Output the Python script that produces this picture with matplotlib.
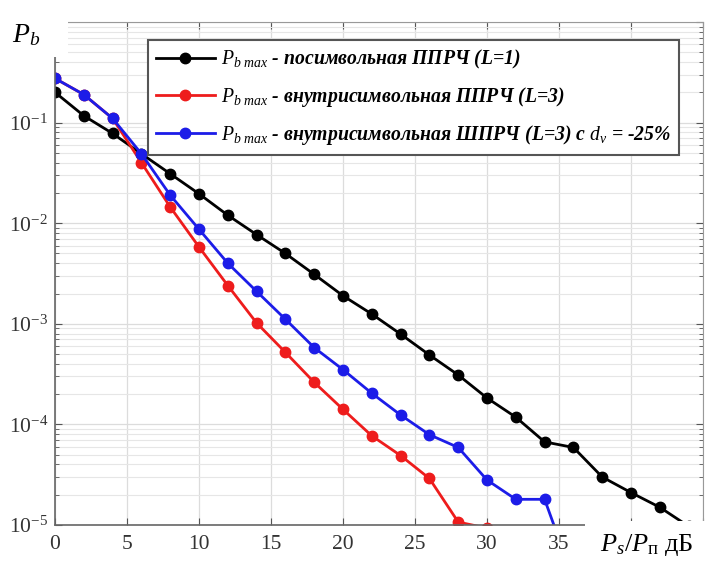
import numpy as np
import matplotlib
matplotlib.use("Agg")
import matplotlib.pyplot as plt
from matplotlib.patches import Rectangle
from matplotlib.ticker import LogLocator, NullFormatter, FixedLocator, FixedFormatter

plt.rcParams['font.family'] = ['Liberation Serif', 'DejaVu Serif']
plt.rcParams['mathtext.fontset'] = 'custom'
plt.rcParams['mathtext.rm'] = 'Liberation Serif'
plt.rcParams['mathtext.it'] = 'Liberation Serif:italic'
plt.rcParams['mathtext.bf'] = 'Liberation Serif:bold'

# Ps/Pп, dB
snr_black = np.arange(0, 46, 2)
snr_red = np.arange(0, 32, 2)
snr_blue = np.arange(0, 38, 2)

pb_symbol = [0.20, 0.117, 0.078, 0.049, 0.031, 0.0196, 0.012, 0.0077, 0.0050,
             0.0031, 0.0019, 0.00125, 0.00079, 0.00049, 0.00031, 0.000183,
             0.000118, 6.7e-5, 5.9e-5, 3.0e-5, 2.1e-5, 1.5e-5, 9.7e-6]
pb_intra = [0.275, 0.19, 0.11, 0.040, 0.0145, 0.0058, 0.0024, 0.00102,
            0.00052, 0.000262, 0.000141, 7.7e-5, 4.9e-5, 2.9e-5, 1.07e-5, 9.3e-6]
pb_intra_dv = [0.275, 0.19, 0.11, 0.049, 0.019, 0.0087, 0.0040, 0.0021,
               0.00111, 0.00058, 0.00035, 0.000204, 0.000124, 7.9e-5, 5.9e-5,
               2.8e-5, 1.8e-5, 1.8e-5, 2.9e-6]

labels = [r"$P_{b\ max}$ - посимвольная ППРЧ (L=1)",
          r"$P_{b\ max}$ - внутрисимвольная ППРЧ (L=3)",
          r"$P_{b\ max}$ - внутрисимвольная ШПРЧ (L=3) с $d_v$ = -25%"]
x_ticks = [0, 5, 10, 15, 20, 25, 30, 35, 40, 45]
x_ticklabels = ['0', '5', '10', '15', '20', '25', '30', '35', '', '']
y_ticks = [1e-5, 1e-4, 1e-3, 1e-2, 1e-1, 1]
y_ticklabels = [r'$10^{-5}$', r'$10^{-4}$', r'$10^{-3}$', r'$10^{-2}$', r'$10^{-1}$', '']

fig = plt.figure(figsize=(7.2, 5.63), dpi=100)
ax = fig.add_axes([0.0764, 0.0675, 0.9, 0.8934])

style = dict(lw=2.0, marker='o', markersize=7.5)
ax.semilogy(snr_black, pb_symbol, color='black', label=labels[0], **style)
ax.semilogy(snr_red, pb_intra, color='#ee1c1c', label=labels[1], **style)
ax.semilogy(snr_blue, pb_intra_dv, color='#1c1ce8', label=labels[2], **style)

ax.set_xlim(0, 45)
ax.set_ylim(1e-5, 1)
ax.set_xticks(x_ticks)
ax.set_xticklabels(x_ticklabels)
ax.yaxis.set_major_locator(FixedLocator(y_ticks))
ax.yaxis.set_major_formatter(FixedFormatter(y_ticklabels))
ax.yaxis.set_minor_locator(LogLocator(base=10, subs=np.arange(2, 10), numticks=10))
ax.yaxis.set_minor_formatter(NullFormatter())

ax.grid(True, which='major', color='#dcdcdc', lw=0.9)
ax.grid(True, which='minor', axis='y', color='#e6e6e6', lw=0.8)
ax.tick_params(which='both', direction='in', top=True, right=True,
               color='#555555', labelsize=15.5, labelcolor='#333333')
ax.tick_params(axis='x', pad=7)
ax.tick_params(axis='y', pad=5)
ax.tick_params(which='major', length=5)
ax.tick_params(which='minor', length=3)
for side in ['left', 'bottom']:
    ax.spines[side].set_color('#666666')
    ax.spines[side].set_linewidth(1.2)
for side in ['top', 'right']:
    ax.spines[side].set_color('#999999')

leg = ax.legend(loc='upper left', bbox_to_anchor=(0.1435, 0.964),
                borderaxespad=0, fancybox=False, framealpha=1,
                edgecolor='#555555', handlelength=3.0, handletextpad=0.3,
                labelspacing=0.7, borderpad=0.4,
                prop={'family': 'Liberation Serif', 'style': 'italic',
                      'weight': 'bold', 'size': 14.2})
leg.get_frame().set_linewidth(1.5)

# white label boxes over the axes corners
fig.add_artist(Rectangle((0, 0.8988), 0.0944, 0.1012, transform=fig.transFigure,
                         facecolor='white', edgecolor='none', zorder=5))
fig.add_artist(Rectangle((0.8125, 0), 0.1875, 0.0746, transform=fig.transFigure,
                         facecolor='white', edgecolor='none', zorder=5))
fig.text(0.016, 0.925, r"$P_b$", fontsize=20, zorder=6)
fig.text(0.834, 0.022, r"$P_s/P_{\mathrm{п}}$ дБ", fontsize=19, zorder=6)

fig.savefig('out.png', dpi=100)
